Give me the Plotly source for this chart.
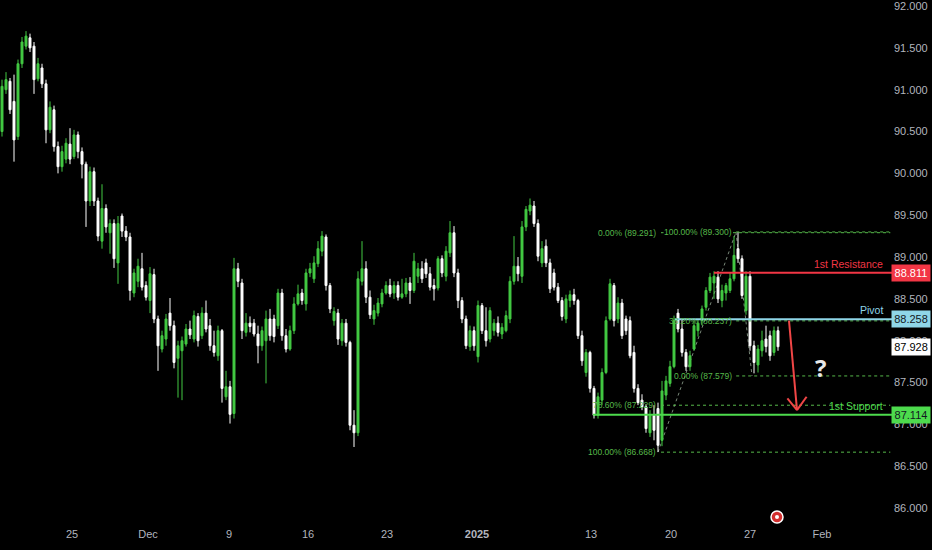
import plotly.graph_objects as go

# ---------------- data (4h-style candles) ----------------
opens = [
    90.50, 91.00, 91.10, 90.86, 90.44, 91.31, 91.52, 91.62, 91.52, 91.13,
    91.26, 91.07, 90.52, 90.76, 90.32, 90.08, 90.17, 90.35, 90.20, 90.46,
    90.26, 90.11, 89.67, 90.02, 89.67, 89.19, 89.58, 89.29, 89.40, 88.93,
    89.49, 89.31, 89.24, 88.57, 88.71, 88.86, 88.66, 88.48, 88.79, 88.26,
    87.90, 88.02, 88.33, 88.18, 87.79, 87.88, 87.96, 88.14, 88.02, 88.29,
    88.06, 88.33, 88.18, 87.94, 87.82, 88.12, 87.33, 87.45, 87.13, 88.86,
    88.69, 88.10, 88.21, 88.21, 88.08, 87.94, 88.00, 88.26, 88.26, 88.18,
    88.57, 88.06, 87.90, 88.12, 88.44, 88.57, 88.44, 88.81, 88.74, 88.92,
    89.07, 89.24, 88.66, 88.24, 88.33, 88.00, 88.21, 87.98, 86.99, 86.90,
    88.71, 88.86, 88.52, 88.26, 88.33, 88.44, 88.57, 88.66, 88.57, 88.66,
    88.52, 88.56, 88.69, 88.60, 88.77, 88.86, 88.93, 88.80, 88.66, 88.63,
    88.98, 88.77, 89.05, 89.29, 88.81, 88.48, 88.26, 87.93, 88.12, 87.81,
    88.42, 88.12, 88.02, 88.12, 88.21, 88.08, 88.12, 88.26, 88.71, 88.89,
    88.77, 89.36, 89.55, 89.61, 89.40, 88.93, 89.13, 88.93, 88.81, 88.64,
    88.48, 88.26, 88.48, 88.55, 88.48, 88.06, 87.62, 87.86, 87.43, 87.11,
    87.29, 87.62, 88.26, 88.66, 88.26, 88.45, 88.26, 88.24, 87.86, 87.43,
    87.29, 87.21, 86.90, 87.11, 87.19, 86.81, 87.35, 87.49, 87.69, 88.33,
    88.14, 87.86, 87.69, 87.90, 88.12, 88.24, 88.40, 88.60, 88.69, 88.76,
    88.48, 88.57, 88.60, 88.74, 89.10, 88.98, 88.36, 88.77, 87.94, 87.71,
    87.88, 88.02, 88.06, 87.86, 88.12,
]
highs = [
    91.12, 91.21, 91.14, 91.18, 91.36, 91.63, 91.70, 91.67, 91.57, 91.38,
    91.31, 91.12, 90.86, 90.81, 90.38, 90.33, 90.42, 90.54, 90.52, 90.50,
    90.31, 90.14, 90.08, 90.07, 89.71, 89.87, 89.63, 89.45, 89.45, 89.49,
    89.52, 89.37, 89.29, 88.86, 88.98, 89.05, 88.71, 88.88, 88.86, 88.30,
    88.12, 88.32, 88.51, 88.24, 88.00, 88.05, 88.20, 88.24, 88.36, 88.33,
    88.40, 88.48, 88.26, 88.12, 88.18, 88.14, 87.64, 87.52, 88.99, 88.93,
    88.74, 88.33, 88.29, 88.26, 88.18, 88.17, 88.36, 88.38, 88.31, 88.62,
    88.62, 88.14, 88.18, 88.52, 88.67, 88.62, 88.86, 88.93, 89.01, 89.19,
    89.31, 89.27, 88.69, 88.40, 88.38, 88.26, 88.26, 88.00, 87.17, 88.83,
    89.19, 88.95, 88.60, 88.43, 88.51, 88.62, 88.71, 88.74, 88.71, 88.71,
    88.74, 88.75, 88.76, 89.05, 88.93, 88.95, 88.98, 88.88, 88.74, 89.01,
    89.02, 89.13, 89.43, 89.37, 88.86, 88.52, 88.30, 88.18, 88.17, 88.48,
    88.45, 88.40, 88.40, 88.26, 88.29, 88.21, 88.36, 88.77, 89.25, 89.00,
    89.43, 89.61, 89.70, 89.67, 89.45, 89.19, 89.21, 88.98, 88.86, 88.69,
    88.52, 88.55, 88.60, 88.62, 88.50, 88.12, 87.90, 87.88, 87.46, 87.38,
    87.67, 88.29, 88.74, 88.69, 88.52, 88.50, 88.30, 88.29, 87.94, 87.48,
    87.36, 87.24, 87.17, 87.23, 87.26, 87.52, 87.58, 87.76, 88.30, 88.38,
    88.26, 87.90, 87.88, 88.24, 88.26, 88.42, 88.64, 88.81, 88.83, 88.83,
    88.67, 88.69, 88.81, 89.25, 89.30, 89.02, 88.83, 88.83, 88.00, 87.95,
    88.12, 88.18, 88.12, 88.17, 88.17,
]
lows = [
    90.44, 90.95, 90.71, 90.14, 90.40, 91.26, 91.48, 91.45, 90.95, 91.10,
    91.02, 90.36, 90.48, 90.26, 90.00, 90.02, 90.12, 90.11, 90.17, 90.18,
    89.94, 89.36, 89.61, 89.61, 89.19, 89.10, 89.29, 89.04, 88.87, 88.68,
    89.24, 89.19, 88.48, 88.52, 88.64, 88.60, 88.48, 88.33, 88.21, 87.64,
    87.86, 87.94, 88.12, 87.67, 87.32, 87.29, 87.93, 88.02, 87.98, 87.93,
    88.02, 88.10, 87.88, 87.81, 87.76, 87.26, 87.29, 87.01, 87.07, 88.64,
    88.02, 88.05, 88.10, 88.05, 87.73, 87.88, 87.49, 88.00, 87.98, 88.14,
    88.00, 87.86, 87.88, 88.08, 88.42, 88.43, 88.36, 88.76, 88.69, 88.88,
    89.01, 88.60, 88.33, 88.18, 87.95, 87.94, 87.93, 86.93, 86.73, 86.86,
    88.66, 88.45, 88.26, 88.19, 88.29, 88.40, 88.55, 88.52, 88.50, 88.48,
    88.50, 88.52, 88.44, 88.57, 88.69, 88.69, 88.75, 88.60, 88.48, 88.60,
    88.76, 88.71, 89.00, 88.76, 88.39, 88.21, 87.90, 87.88, 87.88, 87.74,
    88.08, 87.93, 87.98, 88.06, 88.05, 88.02, 88.10, 88.21, 88.67, 88.71,
    88.69, 89.31, 89.50, 89.36, 88.95, 88.88, 88.88, 88.57, 88.60, 88.45,
    88.24, 88.21, 88.40, 88.43, 88.02, 87.70, 87.57, 87.38, 87.07, 87.07,
    87.23, 87.60, 88.24, 88.17, 88.21, 88.02, 88.07, 87.79, 87.38, 87.23,
    87.17, 86.90, 86.85, 86.81, 86.67, 86.74, 87.29, 87.45, 87.67, 88.10,
    87.81, 87.64, 87.64, 87.88, 88.05, 88.19, 88.36, 88.57, 88.50, 88.45,
    88.40, 88.48, 88.57, 88.71, 88.93, 88.50, 88.31, 87.88, 87.61, 87.62,
    87.81, 87.86, 87.76, 87.82, 87.88,
]
closes = [
    91.04, 91.12, 90.76, 90.40, 91.31, 91.57, 91.64, 91.50, 91.12, 91.31,
    91.07, 90.52, 90.79, 90.32, 90.08, 90.26, 90.36, 90.17, 90.46, 90.26,
    90.11, 89.67, 90.02, 89.67, 89.25, 89.58, 89.36, 89.40, 88.98, 89.40,
    89.31, 89.24, 88.60, 88.81, 88.89, 88.64, 88.52, 88.80, 88.26, 87.94,
    88.06, 88.26, 88.18, 87.74, 87.94, 88.00, 88.14, 88.07, 88.30, 88.00,
    88.33, 88.14, 87.94, 87.86, 88.12, 87.43, 87.45, 87.12, 88.86, 88.71,
    88.12, 88.21, 88.17, 88.08, 87.94, 88.12, 88.26, 88.06, 88.05, 88.57,
    88.06, 87.90, 88.12, 88.44, 88.56, 88.48, 88.81, 88.86, 88.93, 89.10,
    89.25, 88.66, 88.38, 88.35, 88.02, 88.21, 87.98, 86.99, 86.90, 88.74,
    88.86, 88.52, 88.31, 88.36, 88.45, 88.57, 88.66, 88.56, 88.66, 88.52,
    88.56, 88.69, 88.60, 88.95, 88.86, 88.74, 88.80, 88.64, 88.62, 88.98,
    88.81, 89.07, 89.29, 88.81, 88.48, 88.26, 87.94, 88.12, 87.94, 88.42,
    88.12, 88.00, 88.36, 88.21, 88.10, 88.16, 88.30, 88.71, 88.89, 88.80,
    89.36, 89.57, 89.62, 89.40, 89.01, 89.10, 88.93, 88.62, 88.64, 88.48,
    88.29, 88.50, 88.55, 88.48, 88.06, 87.76, 87.86, 87.43, 87.11, 87.33,
    87.62, 88.24, 88.68, 88.24, 88.45, 88.06, 88.12, 87.82, 87.43, 87.26,
    87.21, 86.95, 87.11, 86.93, 86.75, 87.40, 87.52, 87.69, 88.24, 88.14,
    87.86, 87.69, 87.82, 88.18, 88.21, 88.38, 88.60, 88.76, 88.77, 88.50,
    88.60, 88.66, 88.74, 89.02, 88.98, 88.54, 88.77, 87.94, 87.74, 87.90,
    88.00, 87.93, 87.82, 88.12, 87.928,
]
assert len(opens) == len(highs) == len(lows) == len(closes)

# date ticks (candle position of each label)
tick_pos = [17.5, 36.5, 56.75, 76.5, 96.25, 118.75, 147.25, 167.25, 187, 205]
tick_text = ["25", "Dec", "9", "16", "23", "<b>2025</b>", "13", "20", "27", "Feb"]

price_ticks = [86.0, 86.5, 87.0, 87.5, 88.0, 88.5, 89.0, 89.5, 90.0, 90.5, 91.0, 91.5, 92.0]

# key levels: name, value, start candle, line colour, box colour, box text colour
levels = [
    ("1st Resistance", 88.811, 178.0, "#f23645", "#f23645", "#ffffff"),
    ("Pivot", 88.258, 168.25, "#8fd6e8", "#8fd6e8", "#131722"),
    ("1st Support", 87.114, 147.75, "#4ddb4d", "#4ddb4d", "#131722"),
]
last_price = 87.928

# fibonacci retracements: (labels, values, label right-edge candle)
fib1_labels = ["0.00% (89.291)", "78.60% (87.229)", "100.00% (86.668)"]
fib1_values = [89.291, 87.229, 86.668]
fib1_pos = 164.0
fib2_labels = ["100.00% (89.300)", "38.20% (88.237)", "0.00% (87.579)"]
fib2_values = [89.300, 88.237, 87.579]
fib2_pos = 182.8

# ---------------- figure ----------------
G = "#43c943"
W = 932
H = 550
ML, MR, MT, MB = 0, 47, 0, 24
plot_w = W - ML - MR
x_lo = -0.5
x_hi = x_lo + plot_w / 4.0
y_hi = 92.048
y_lo = 92.0 - (H - MB - 4) / 84.0


def xp(i):
    return (i - x_lo) / (x_hi - x_lo)


fig = go.Figure()
fig.add_trace(go.Candlestick(
    x=list(range(len(closes))), open=opens, high=highs, low=lows, close=closes,
    increasing=dict(line=dict(color=G, width=1), fillcolor=G),
    decreasing=dict(line=dict(color="#ffffff", width=1), fillcolor="#ffffff"),
    whiskerwidth=0, hoverinfo="skip", showlegend=False,
))

shapes = []
annotations = []
FIBC = "#56b84a"
FONT = "Liberation Sans, Arial, sans-serif"

# fib trend (diagonal) lines
shapes.append(dict(type="line", xref="x", yref="y", x0=164.0, y0=86.668, x1=183.5, y1=89.300,
                   line=dict(color="rgba(150,170,150,0.8)", width=1, dash="dot"), layer="below"))
shapes.append(dict(type="line", xref="x", yref="y", x0=183.5, y0=89.300, x1=187.5, y1=87.579,
                   line=dict(color="rgba(150,170,150,0.8)", width=1, dash="dot"), layer="below"))

for lab, val in zip(fib1_labels, fib1_values):
    shapes.append(dict(type="line", xref="paper", yref="y", x0=xp(fib1_pos + 0.75), x1=1.006,
                       y0=val, y1=val, line=dict(color=FIBC, width=1, dash="dot")))
    annotations.append(dict(x=fib1_pos, y=val, xref="x", yref="y", text=lab, showarrow=False,
                            xanchor="right", yanchor="middle",
                            font=dict(family=FONT, size=8.5, color=FIBC)))
for k, (lab, val) in enumerate(zip(fib2_labels, fib2_values)):
    shapes.append(dict(type="line", xref="paper", yref="y", x0=xp(fib2_pos + 0.75), x1=1.006,
                       y0=val, y1=val, line=dict(color=FIBC, width=1, dash="dot")))
    annotations.append(dict(x=fib2_pos, y=val, xref="x", yref="y", text=lab, showarrow=False,
                            xanchor="right", yanchor="middle",
                            bgcolor="#000000" if k == 0 else None, borderpad=0,
                            font=dict(family=FONT, size=8.5, color=FIBC)))

# key levels
for name, val, start, lc, bc, tc in levels:
    shapes.append(dict(type="line", xref="paper", yref="y", x0=xp(start), x1=1.01,
                       y0=val, y1=val, line=dict(color=lc, width=2)))
    annotations.append(dict(x=1, y=val, xref="paper", yref="y", text=name, showarrow=False,
                            xanchor="right", yanchor="bottom", yshift=1,
                            font=dict(family=FONT, size=10.5, color=lc)))
    annotations.append(dict(x=1, y=val, xref="paper", yref="y", text=f"{val:.3f}", showarrow=False,
                            xanchor="left", yanchor="middle", xshift=6, width=38, height=16,
                            bgcolor=bc, borderpad=0,
                            font=dict(family=FONT, size=11, color=tc)))

annotations.append(dict(x=1, y=last_price, xref="paper", yref="y", text=f"{last_price:.3f}",
                        showarrow=False, xanchor="left", yanchor="middle", xshift=6, width=38, height=16,
                        bgcolor="#ffffff", borderpad=0,
                        font=dict(family=FONT, size=11, color="#000000")))

# projected move arrow
ARROW = "#f04646"
a_start = (196.75, 88.24)
a_end = (198.75, 87.17)
shapes.append(dict(type="line", xref="x", yref="y", x0=a_start[0], y0=a_start[1], x1=a_end[0], y1=a_end[1],
                   line=dict(color=ARROW, width=2)))
shapes.append(dict(type="line", xref="x", yref="y", x0=a_end[0] - 2.4, y0=a_end[1] + 0.14, x1=a_end[0], y1=a_end[1],
                   line=dict(color=ARROW, width=2)))
shapes.append(dict(type="line", xref="x", yref="y", x0=a_end[0] + 2.4, y0=a_end[1] + 0.16, x1=a_end[0], y1=a_end[1],
                   line=dict(color=ARROW, width=2)))

annotations.append(dict(x=204.5, y=87.68, xref="x", yref="y", text="<b>?</b>", showarrow=False,
                        font=dict(family="Open Sans, DejaVu Sans, sans-serif", size=24, color="#e8e8e8")))

# event marker
fig.add_trace(go.Scatter(x=[193.75], y=[85.893], mode="markers", cliponaxis=False, hoverinfo="skip",
                         marker=dict(size=12, color="#d32f2f", line=dict(color="#ffffff", width=1.5)),
                         showlegend=False))
fig.add_trace(go.Scatter(x=[193.75], y=[85.893], mode="markers", cliponaxis=False, hoverinfo="skip",
                         marker=dict(size=4, color="#ffffff"), showlegend=False))

fig.update_layout(
    width=W, height=H,
    margin=dict(l=ML, r=MR, t=MT, b=MB),
    paper_bgcolor="#000000", plot_bgcolor="#000000",
    shapes=shapes, annotations=annotations,
    showlegend=False,
    xaxis=dict(range=[x_lo, x_hi], tickvals=tick_pos, ticktext=tick_text, showgrid=False,
               zeroline=False, showline=False, ticks="", rangeslider=dict(visible=False),
               tickfont=dict(family=FONT, size=11, color="#b2b5be"), fixedrange=True),
    yaxis=dict(range=[y_lo, y_hi], side="right", tickvals=price_ticks,
               ticktext=[f"{v:.3f}" for v in price_ticks], showgrid=False, zeroline=False,
               showline=False, ticks="", ticklabelstandoff=8, ticklabeloverflow="allow",
               tickfont=dict(family=FONT, size=11, color="#b2b5be"),
               fixedrange=True),
)

fig.write_html(
    "out.html",
    config={"displayModeBar": False},
    post_script="document.body.style.margin='0px';document.body.style.padding='0px';"
                "document.body.style.overflow='hidden';document.body.style.background='#000';",
)
